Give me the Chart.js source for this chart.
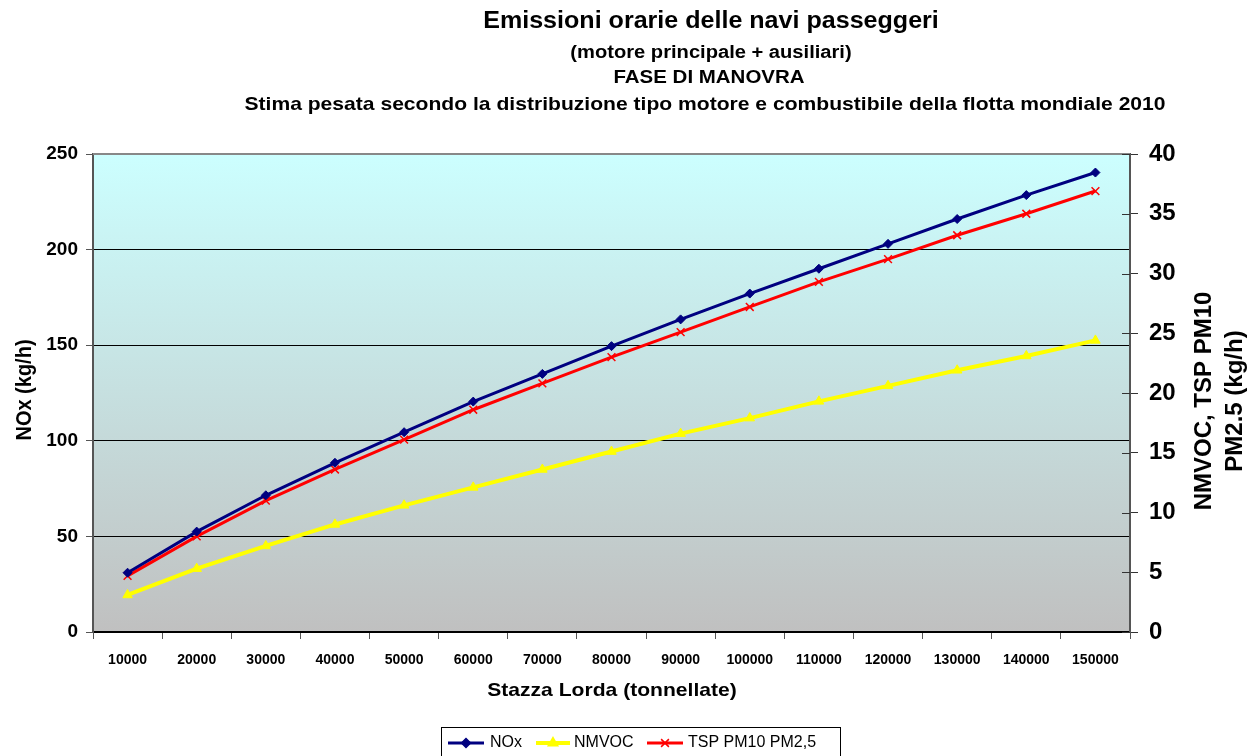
<!DOCTYPE html>
<html><head><meta charset="utf-8">
<script src="https://cdn.jsdelivr.net/npm/chart.js@4/dist/chart.umd.min.js"></script>
<style>html,body{margin:0;padding:0;background:#fff;}#wrap{width:1257px;height:756px;}</style>
</head><body><div id="wrap"><canvas id="c" width="1257" height="756"></canvas></div>
<script>
const categories = ['10000','20000','30000','40000','50000','60000','70000','80000','90000','100000','110000','120000','130000','140000','150000'];
const noxValues = [31, 52.5, 71.5, 88.5, 104.5, 120.5, 135, 149.5, 163.5, 177, 190, 203, 216, 228.5, 240.3];
const nmvocValues = [3.1, 5.3, 7.2, 9.0, 10.6, 12.1, 13.6, 15.1, 16.6, 17.9, 19.3, 20.6, 21.9, 23.1, 24.4];
const tspValues = [4.7, 8.0, 11.0, 13.6, 16.1, 18.6, 20.8, 23.0, 25.1, 27.2, 29.3, 31.2, 33.2, 35.0, 36.9];
const leftTicks = [0, 50, 100, 150, 200, 250];
const rightTicks = [0, 5, 10, 15, 20, 25, 30, 35, 40];
const seriesNames = ['NOx', 'NMVOC', 'TSP PM10 PM2,5'];
const titleLines = [
  'Emissioni orarie delle navi passeggeri',
  '(motore principale + ausiliari)',
  'FASE DI MANOVRA',
  'Stima pesata secondo la distribuzione tipo motore e combustibile della flotta mondiale 2010'
];
const xTitle = 'Stazza Lorda (tonnellate)';
const yLeftTitle = 'NOx (kg/h)';
const yRightTitle = ['NMVOC, TSP PM10', 'PM2.5 (kg/h)'];

const FONT = '"Liberation Sans", Arial, sans-serif';

function stretchText(ctx, text, x, y, sx) {
  ctx.save();
  ctx.translate(x, y);
  ctx.scale(sx, 1);
  ctx.fillText(text, 0, 0);
  ctx.restore();
}

const decorPlugin = {
  id: 'decor',
  beforeDraw(chart) {
    const {ctx, chartArea: a} = chart;
    ctx.save();
    const g = ctx.createLinearGradient(0, a.top, 0, a.bottom);
    g.addColorStop(0, '#ccffff');
    g.addColorStop(1, '#c0c0c0');
    ctx.fillStyle = g;
    ctx.fillRect(a.left, a.top, a.right - a.left, a.bottom - a.top);
    ctx.restore();
  },
  afterDraw(chart) {
    const {ctx, chartArea: a} = chart;
    ctx.save();
    ctx.strokeStyle = '#888';
    ctx.lineWidth = 2;
    ctx.beginPath(); ctx.moveTo(a.left, a.top); ctx.lineTo(a.right, a.top); ctx.stroke();
    const yr = chart.scales.yR;
    ctx.strokeStyle = '#333';
    ctx.lineWidth = 1;
    rightTicks.forEach(v => {
      const y = Math.round(yr.getPixelForValue(v)) + 0.5;
      ctx.beginPath(); ctx.moveTo(a.right - 8, y); ctx.lineTo(a.right, y); ctx.stroke();
    });
    ctx.fillStyle = '#000';
    ctx.textAlign = 'center';
    ctx.textBaseline = 'middle';
    ctx.font = 'bold 23px ' + FONT;
    stretchText(ctx, titleLines[0], 711, 22, 1.09);
    ctx.font = 'bold 17.5px ' + FONT;
    stretchText(ctx, titleLines[1], 711, 53, 1.15);
    stretchText(ctx, titleLines[2], 709, 78, 1.17);
    ctx.font = 'bold 18.5px ' + FONT;
    stretchText(ctx, titleLines[3], 705, 105, 1.14);
    ctx.font = 'bold 18.5px ' + FONT;
    stretchText(ctx, xTitle, 612, 691, 1.14);
    ctx.font = 'bold 20px ' + FONT;
    ctx.save();
    ctx.translate(25, 390);
    ctx.rotate(-Math.PI / 2);
    ctx.scale(1, 1.12);
    ctx.fillText(yLeftTitle, 0, 0);
    ctx.restore();
    ctx.save();
    ctx.translate(1219, 401);
    ctx.rotate(-Math.PI / 2);
    ctx.font = 'bold 24px ' + FONT;
    ctx.fillText(yRightTitle[0], 0, -15);
    ctx.fillText(yRightTitle[1], 0, 16);
    ctx.restore();
    ctx.strokeStyle = '#000';
    ctx.lineWidth = 1;
    ctx.strokeRect(441.5, 727.5, 399, 40);
    const items = [
      {x1: 448, x2: 484, tx: 490},
      {x1: 536, x2: 570, tx: 574},
      {x1: 647, x2: 683, tx: 688}
    ];
    const ly = 743;
    ctx.font = '16px ' + FONT;
    ctx.textAlign = 'left';
    chart.data.datasets.forEach((ds, i) => {
      const it = items[i];
      ctx.strokeStyle = ds.borderColor;
      ctx.fillStyle = ds.backgroundColor;
      ctx.lineWidth = ds.borderWidth;
      ctx.beginPath(); ctx.moveTo(it.x1, ly); ctx.lineTo(it.x2, ly); ctx.stroke();
      ctx.lineWidth = 1.5;
      Chart.helpers.drawPoint(ctx, {pointStyle: ds.pointStyle, radius: ds.pointRadius, rotation: 0, borderWidth: 1.5}, (it.x1 + it.x2) / 2, ly);
      ctx.fillStyle = '#000';
      ctx.fillText(seriesNames[i], it.tx, ly);
    });
    ctx.restore();
  }
};

new Chart(document.getElementById('c'), {
  type: 'line',
  data: {
    labels: categories,
    datasets: [
      {label: seriesNames[0], data: noxValues, yAxisID: 'y', borderColor: '#000080', backgroundColor: '#000080', borderWidth: 3, pointStyle: 'rectRot', pointRadius: 4.5, pointBorderWidth: 1, tension: 0},
      {label: seriesNames[1], data: nmvocValues, yAxisID: 'yR', borderColor: '#ffff00', backgroundColor: '#ffff00', borderWidth: 4, pointStyle: 'triangle', pointRadius: 5.5, pointBorderWidth: 1, tension: 0},
      {label: seriesNames[2], data: tspValues, yAxisID: 'yR', borderColor: '#ff0000', backgroundColor: '#ff0000', borderWidth: 3, pointStyle: 'crossRot', pointRadius: 5.5, pointBorderWidth: 1.5, tension: 0}
    ]
  },
  options: {
    responsive: false,
    animation: false,
    devicePixelRatio: 1,
    layout: {padding: {top: 154, left: 0, right: 0, bottom: 0}},
    plugins: {legend: {display: false}, title: {display: false}, tooltip: {enabled: false}},
    scales: {
      x: {
        type: 'category',
        offset: true,
        afterFit(s) { s.height = 124; },
        grid: {offset: true, drawOnChartArea: false, drawTicks: true, tickLength: 7, color: '#555', lineWidth: 1},
        border: {display: true, color: '#000', width: 1.5},
        ticks: {color: '#000', font: {family: FONT, size: 14, weight: 'bold'}, padding: 13, maxRotation: 0, autoSkip: false}
      },
      y: {
        position: 'left',
        min: 0, max: 250,
        afterFit(s) { s.width = 93; },
        afterBuildTicks(s) { s.ticks = leftTicks.map(v => ({value: v})); },
        grid: {color: '#000', lineWidth: 1, drawTicks: true, tickLength: 7, tickColor: '#555'},
        border: {display: true, color: '#555', width: 2},
        ticks: {color: '#000', font: {family: FONT, size: 19, weight: 'bold'}, padding: 8}
      },
      yR: {
        position: 'right',
        min: 0, max: 40,
        afterFit(s) { s.width = 127; },
        afterBuildTicks(s) { s.ticks = rightTicks.map(v => ({value: v})); },
        grid: {drawOnChartArea: false, drawTicks: true, tickLength: 8, color: '#333'},
        border: {display: true, color: '#555', width: 2},
        ticks: {color: '#000', font: {family: FONT, size: 24, weight: 'bold'}, padding: 11}
      }
    }
  },
  plugins: [decorPlugin]
});
</script>
</body></html>
